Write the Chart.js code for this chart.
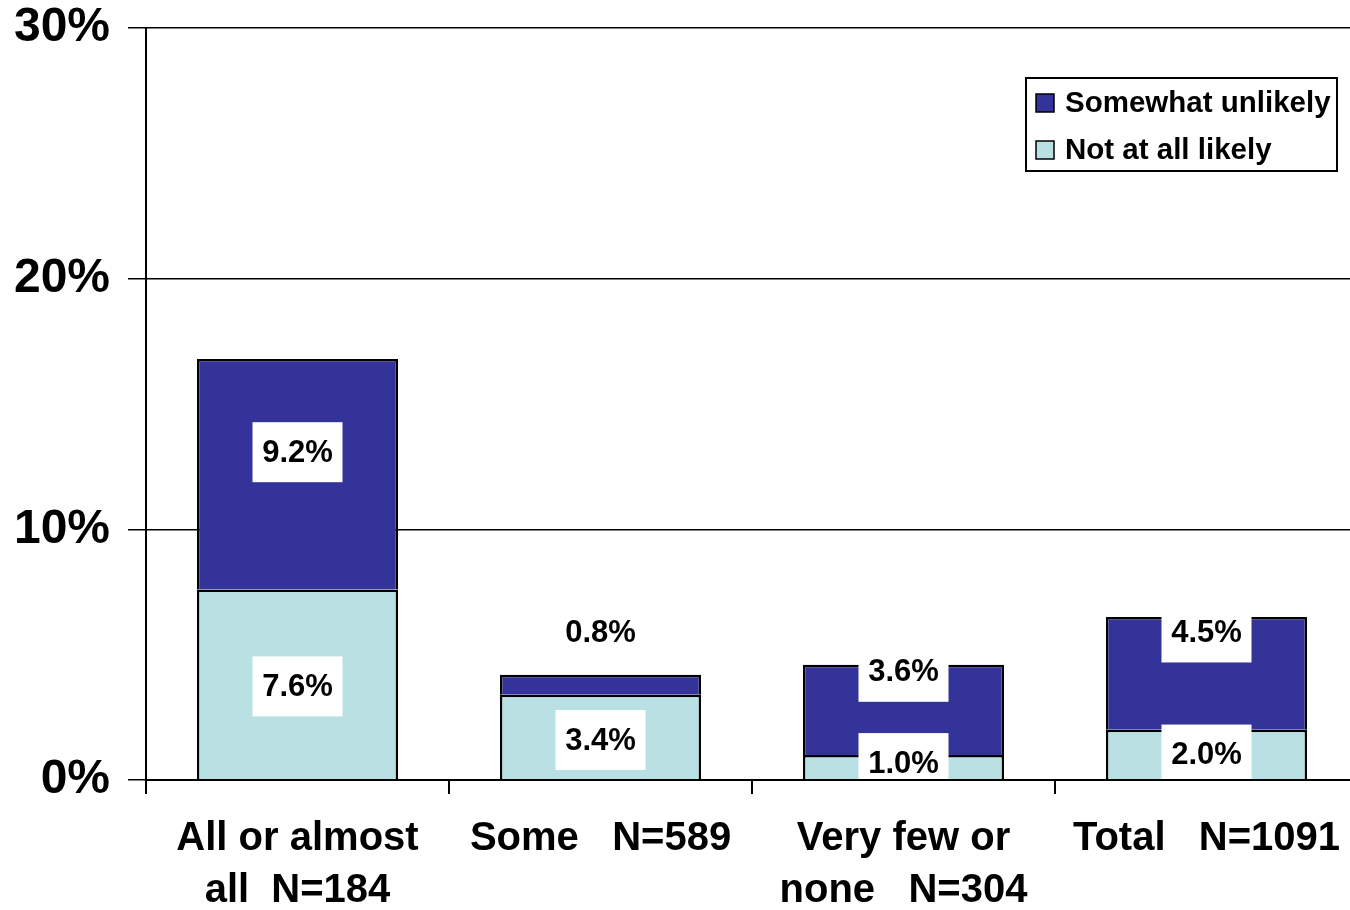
<!DOCTYPE html>
<html>
<head>
<meta charset="utf-8">
<script src="https://cdn.jsdelivr.net/npm/chart.js@4.4.1/dist/chart.umd.min.js"></script>
<style>
  html, body { margin: 0; padding: 0; background: #ffffff; overflow: hidden; }
  #wrap { width: 1350px; height: 910px; overflow: hidden; position: relative; }
  canvas { display: block; }
</style>
</head>
<body>
<div id="wrap"><canvas id="c" width="1358" height="910"></canvas></div>
<script>
// ---- data ----
const categories = [["All or almost", "all  N=184"], ["Some   N=589"], ["Very few or", "none   N=304"], ["Total   N=1091"]];
const seriesNames = ["Not at all likely", "Somewhat unlikely"];
const notAtAllLikely = [7.6, 3.4, 1.0, 2.0];
const somewhatUnlikely = [9.2, 0.8, 3.6, 4.5];
const yMin = 0;
const yMax = 30;
const yStep = 10;

// ---- styling ----
const FONT = "'Liberation Sans', Arial, Helvetica, sans-serif";
const DARK = '#333399';
const LIGHT = '#B9E0E3';

const labelPlugin = {
  id: 'segLabels',
  afterDatasetsDraw(chart, args, opts) {
    const ctx = chart.ctx;
    ctx.save();
    chart.data.datasets.forEach((ds, i) => {
      const meta = chart.getDatasetMeta(i);
      meta.data.forEach((el, j) => {
        const v = ds.data[j];
        const cy = (el.y + el.base) / 2 + opts.offsets[i][j];
        ctx.fillStyle = '#ffffff';
        ctx.fillRect(el.x - opts.boxW / 2, cy - opts.boxH / 2, opts.boxW, opts.boxH);
        ctx.fillStyle = '#000000';
        ctx.font = 'bold 31px ' + FONT;
        ctx.textAlign = 'center';
        ctx.textBaseline = 'middle';
        ctx.fillText(v.toFixed(1) + '%', el.x, cy + 1);
      });
    });
    ctx.restore();
  }
};

const legendPlugin = {
  id: 'boxLegend',
  afterDraw(chart, args, opts) {
    const ctx = chart.ctx;
    ctx.save();
    ctx.fillStyle = '#ffffff';
    ctx.fillRect(opts.x, opts.y, opts.w, opts.h);
    ctx.strokeStyle = '#000000';
    ctx.lineWidth = 2;
    ctx.strokeRect(opts.x, opts.y, opts.w, opts.h);
    const order = [1, 0];
    order.forEach((di, k) => {
      const ds = chart.data.datasets[di];
      const cy = opts.y + opts.firstRow + k * opts.rowGap;
      ctx.fillStyle = ds.backgroundColor;
      ctx.fillRect(opts.x + 10, cy - 9, 18, 18);
      ctx.lineWidth = 1.5;
      ctx.strokeStyle = '#000000';
      ctx.strokeRect(opts.x + 10, cy - 9, 18, 18);
      ctx.fillStyle = '#000000';
      ctx.font = 'bold 29.5px ' + FONT;
      ctx.textAlign = 'left';
      ctx.textBaseline = 'middle';
      ctx.fillText(ds.label, opts.x + 39, cy + 1);
    });
    ctx.restore();
  }
};

new Chart(document.getElementById('c'), {
  type: 'bar',
  data: {
    labels: categories,
    datasets: [
      {
        label: seriesNames[0],
        data: notAtAllLikely,
        backgroundColor: LIGHT,
        borderColor: '#000000',
        borderWidth: 2.5,
        borderSkipped: 'start'
      },
      {
        label: seriesNames[1],
        data: somewhatUnlikely,
        backgroundColor: DARK,
        borderColor: '#000000',
        borderWidth: 2.5,
        borderSkipped: 'start'
      }
    ]
  },
  options: {
    responsive: false,
    animation: false,
    devicePixelRatio: 1,
    layout: { padding: { top: 28, left: 0, right: 0, bottom: 0 } },
    datasets: { bar: { categoryPercentage: 1.0, barPercentage: 0.664 } },
    plugins: {
      legend: { display: false },
      tooltip: { enabled: false },
      segLabels: {
        boxW: 90,
        boxH: 60,
        offsets: [[2, 3, -4, 0], [-22, -52, -38, -41]]
      },
      boxLegend: { x: 1026, y: 78, w: 311, h: 93, firstRow: 25, rowGap: 47 }
    },
    scales: {
      x: {
        stacked: true,
        afterFit(scale) { scale.height = 130; scale.paddingLeft = 0; scale.paddingRight = 0; },
        grid: { display: true, drawOnChartArea: false, drawTicks: true, tickLength: 14, color: '#000000', lineWidth: 2, offset: true },
        border: { display: true, color: '#000000', width: 2, z: 1 },
        ticks: {
          color: '#000000',
          font: { family: FONT, size: 40, weight: 'bold', lineHeight: 1.3 },
          padding: 19,
          maxRotation: 0,
          autoSkip: false
        }
      },
      y: {
        stacked: true,
        min: yMin,
        max: yMax,
        afterFit(scale) { scale.width = 146; scale.paddingTop = 0; scale.paddingBottom = 0; },
        grid: { color: '#000000', lineWidth: 1.5, drawTicks: true, tickLength: 18 },
        border: { display: true, color: '#000000', width: 2 },
        ticks: {
          stepSize: yStep,
          color: '#000000',
          font: { family: FONT, size: 48, weight: 'bold' },
          padding: 18,
          callback: (v) => v + '%'
        }
      }
    }
  },
  plugins: [labelPlugin, legendPlugin]
});
</script>
</body>
</html>
